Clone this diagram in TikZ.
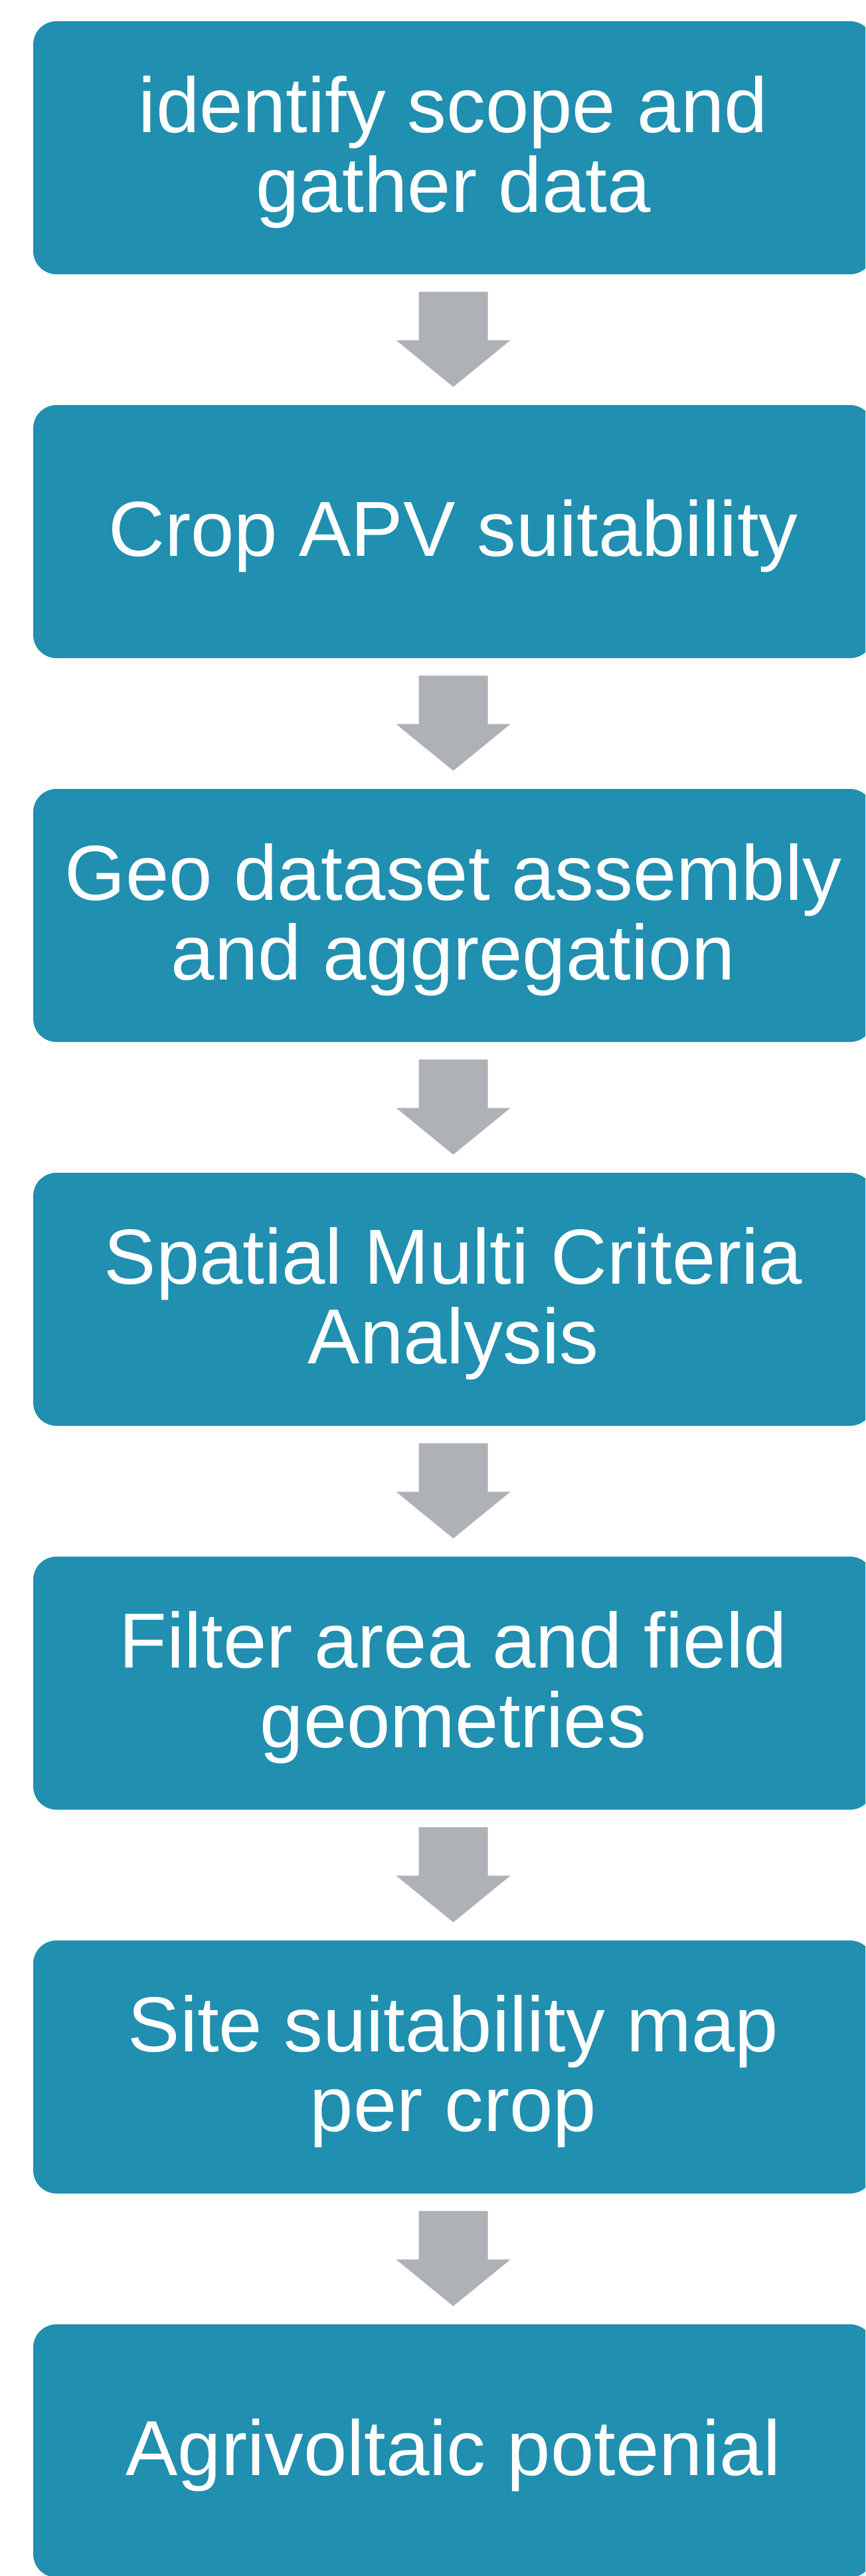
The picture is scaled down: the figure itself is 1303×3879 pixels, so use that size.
\documentclass[tikz,border=0pt]{standalone}
\usepackage{fontspec}
\setmainfont{Liberation Sans}
\usetikzlibrary{calc}
\definecolor{boxblue}{HTML}{208FB0}
\definecolor{arrowgray}{HTML}{AEB2B6}
\tikzset{
  stepbox/.style={fill=boxblue, draw=none, rounded corners=17.5pt,
    minimum width=632.5pt, minimum height=190.5pt, inner sep=0pt,
    text=white, align=center,
    font=\fontsize{58.75pt}{60pt}\selectfont},
  steptext/.style={text=white, align=center, inner sep=0pt,
    font=\fontsize{58.75pt}{60pt}\selectfont, yshift=-3.25pt},
  blockarrow/.style={fill=arrowgray, draw=none}
}
\begin{document}
\begin{tikzpicture}[x=0.5pt, y=-0.5pt]
\useasboundingbox (0,0) rectangle (1303,3879);
\clip (0,0) rectangle (1303,3879);
\foreach \i/\t in {1/{identify scope and\\gather data},
                   2/{Crop APV suitability},
                   3/{Geo dataset assembly\\and aggregation},
                   4/{Spatial Multi Criteria\\Analysis},
                   5/{Filter area and field\\geometries},
                   6/{Site suitability map\\per crop},
                   7/{Agrivoltaic potenial}} {
  \node[stepbox] (b\i) at (682.5, {222.5+578*(\i-1)}) {};
  \node[steptext] (t\i) at (b\i.center) {\t};
}
\foreach \a/\b in {b1/b2, b2/b3, b3/b4, b4/b5, b5/b6, b6/b7} {
  \fill[blockarrow] ($(\a.south)+(-52,26)$) -- ($(\a.south)+(52,26)$)
    -- ($(\a.south)+(52,99)$) -- ($(\a.south)+(86,99)$)
    -- ($(\b.north)+(0,-27)$)
    -- ($(\a.south)+(-86,99)$) -- ($(\a.south)+(-52,99)$) -- cycle;
}
\end{tikzpicture}
\end{document}
